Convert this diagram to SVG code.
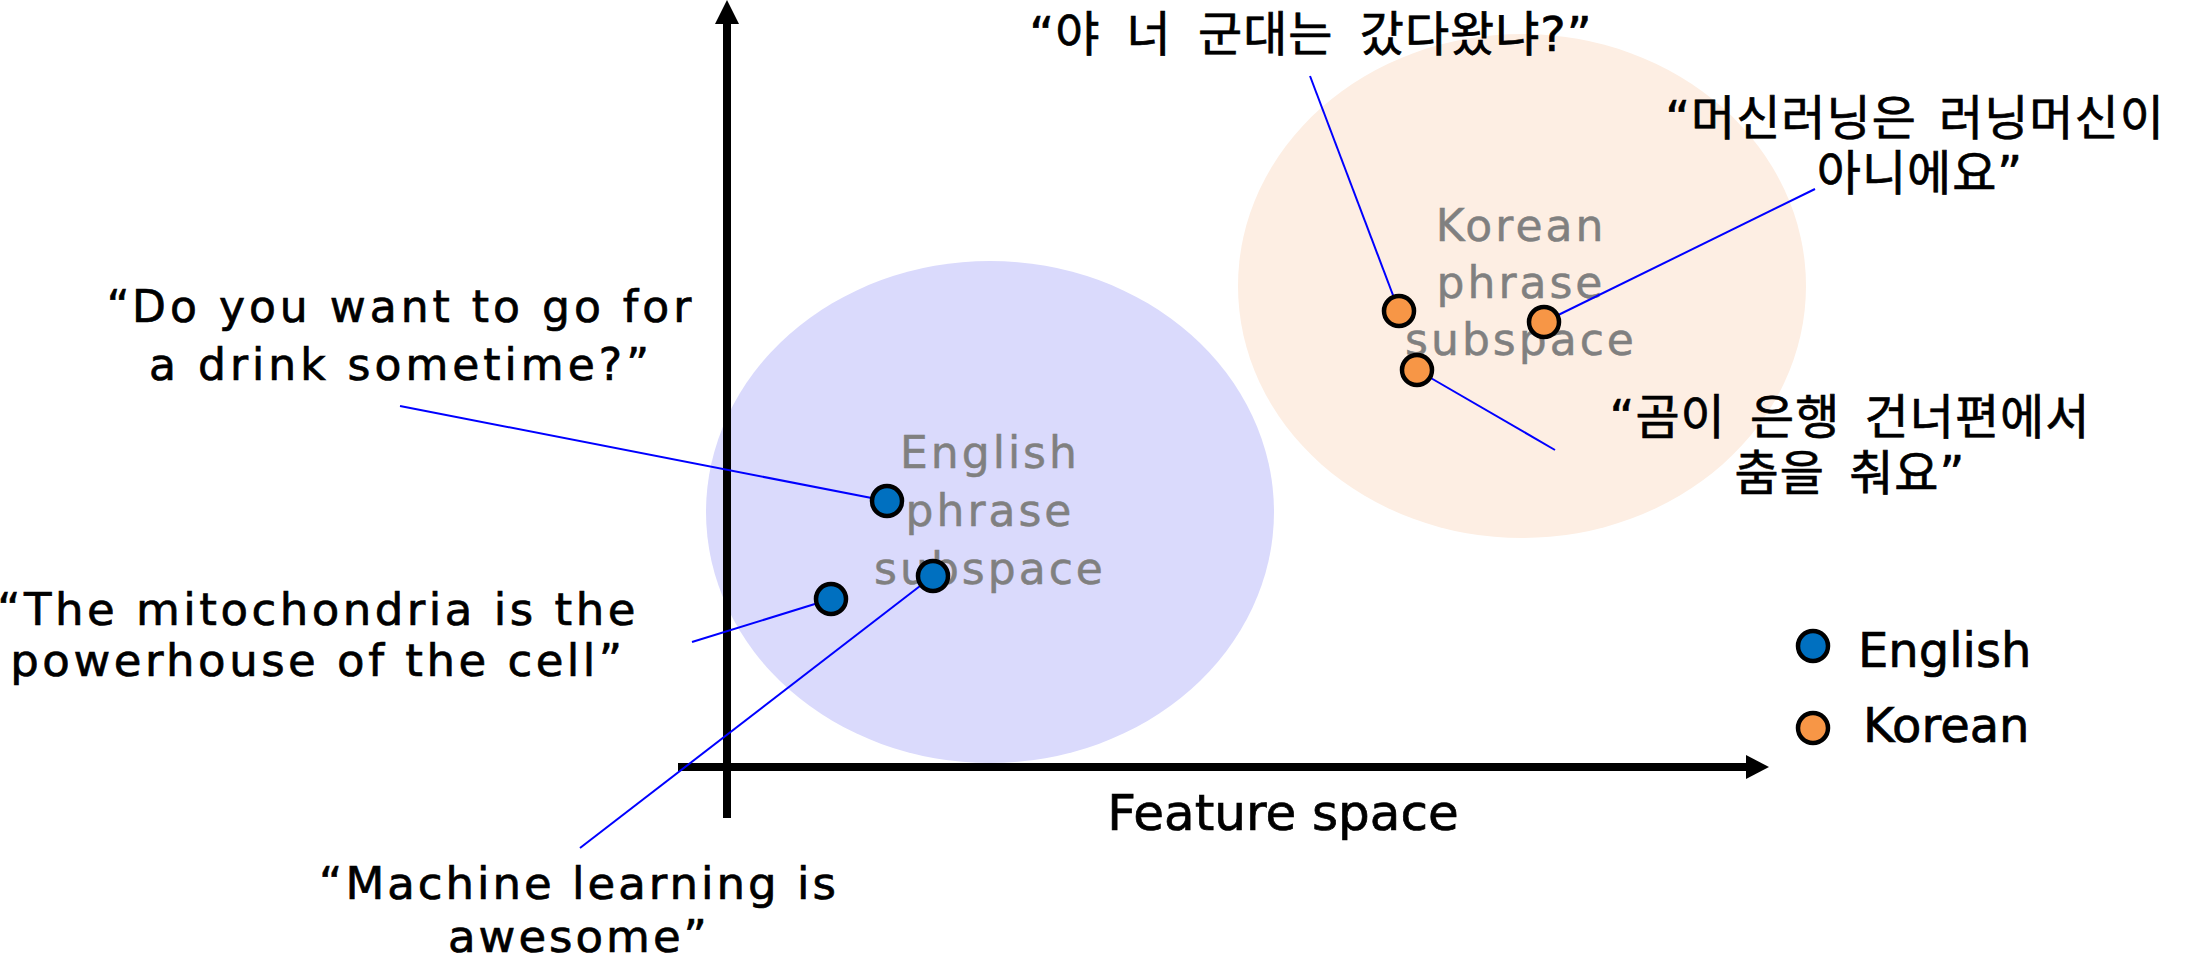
<svg xmlns="http://www.w3.org/2000/svg" width="2192" height="961" viewBox="0 0 2192 961">
<style>
.q{font-family:"DejaVu Sans","Noto Sans CJK KR",sans-serif;fill:#000;text-anchor:middle;stroke:#000;stroke-width:0.7}
.en{font-size:45px;letter-spacing:3px}
.ko{font-size:48px;letter-spacing:1px;word-spacing:6px}
.lab{font-family:"DejaVu Sans",sans-serif;font-size:44px;letter-spacing:3px;fill:#808080;text-anchor:middle;stroke:#808080;stroke-width:0.5}
.leg{font-family:"DejaVu Sans",sans-serif;font-size:48px;fill:#000;stroke:#000;stroke-width:0.7}
.conn{stroke:#0000ff;stroke-width:2;fill:none}
.axis{stroke:#000;stroke-width:8}
.ptE{fill:#0070c0;stroke:#000;stroke-width:4.5}
.ptK{fill:#f79646;stroke:#000;stroke-width:4.5}
</style>
<rect width="2192" height="961" fill="#fff"/>
<g id="english-subspace">
<ellipse cx="990" cy="512" rx="284" ry="251" fill="#dadafc"/>
<text class="lab" x="990" y="468">English</text>
<text class="lab" x="990" y="526">phrase</text>
<text class="lab" x="990" y="584">subspace</text>
</g>
<g id="korean-subspace">
<ellipse cx="1522" cy="286" rx="284" ry="252" fill="#fdeee3"/>
<text class="lab" x="1521" y="241">Korean</text>
<text class="lab" x="1521" y="298">phrase</text>
<text class="lab" x="1521" y="355">subspace</text>
</g>
<g id="axes">
<line class="axis" x1="727" y1="22" x2="727" y2="818"/>
<polygon points="727,0 715,24 739,24" fill="#000"/>
<line class="axis" x1="678" y1="767" x2="1748" y2="767"/>
<polygon points="1769,767 1746,755 1746,779" fill="#000"/>
<text class="leg" x="1283" y="830" text-anchor="middle" style="font-size:50px">Feature space</text>
</g>
<g id="connectors">
<line class="conn" x1="400" y1="406" x2="887" y2="501"/>
<line class="conn" x1="692" y1="642" x2="831" y2="599"/>
<line class="conn" x1="580" y1="848" x2="933" y2="576"/>
<line class="conn" x1="1310" y1="76" x2="1399" y2="311"/>
<line class="conn" x1="1815" y1="189" x2="1544" y2="322"/>
<line class="conn" x1="1555" y1="450" x2="1417" y2="370"/>
</g>
<g id="point-drink"><circle class="ptE" cx="887" cy="501" r="15"/></g>
<g id="point-mito"><circle class="ptE" cx="831" cy="599" r="15"/></g>
<g id="point-ml"><circle class="ptE" cx="933" cy="576" r="15"/></g>
<g id="point-army"><circle class="ptK" cx="1399" cy="311" r="15"/></g>
<g id="point-ml-ko"><circle class="ptK" cx="1544" cy="322" r="15"/></g>
<g id="point-bear"><circle class="ptK" cx="1417" cy="370" r="15"/></g>
<g id="label-drink">
<text class="q" x="401" y="322" style="font-size:44px;letter-spacing:4px">“Do you want to go for</text>
<text class="q" x="401" y="380" style="font-size:44px;letter-spacing:4px">a drink sometime?”</text>
</g>
<g id="label-mito">
<text class="q en" x="318" y="625" style="letter-spacing:3.5px">“The mitochondria is the</text>
<text class="q en" x="318" y="676" style="letter-spacing:3.5px">powerhouse of the cell”</text>
</g>
<g id="label-ml">
<text class="q en" x="579" y="899">“Machine learning is</text>
<text class="q en" x="579" y="952">awesome”</text>
</g>
<g id="label-army">
<text class="q ko" x="1311" y="51" style="word-spacing:10px">“야 너 군대는 갔다왔냐?”</text>
</g>
<g id="label-ml-ko">
<text class="q ko" x="1915" y="135">“머신러닝은 러닝머신이</text>
<text class="q ko" x="1920" y="190">아니에요”</text>
</g>
<g id="label-bear">
<text class="q ko" x="1850" y="434" style="word-spacing:8px">“곰이 은행 건너편에서</text>
<text class="q ko" x="1850" y="490" style="word-spacing:8px">춤을 춰요”</text>
</g>
<g id="legend">
<circle class="ptE" cx="1813" cy="646" r="15"/>
<text class="leg" x="1858" y="667">English</text>
<circle class="ptK" cx="1813" cy="728" r="15"/>
<text class="leg" x="1863" y="742">Korean</text>
</g>
</svg>
